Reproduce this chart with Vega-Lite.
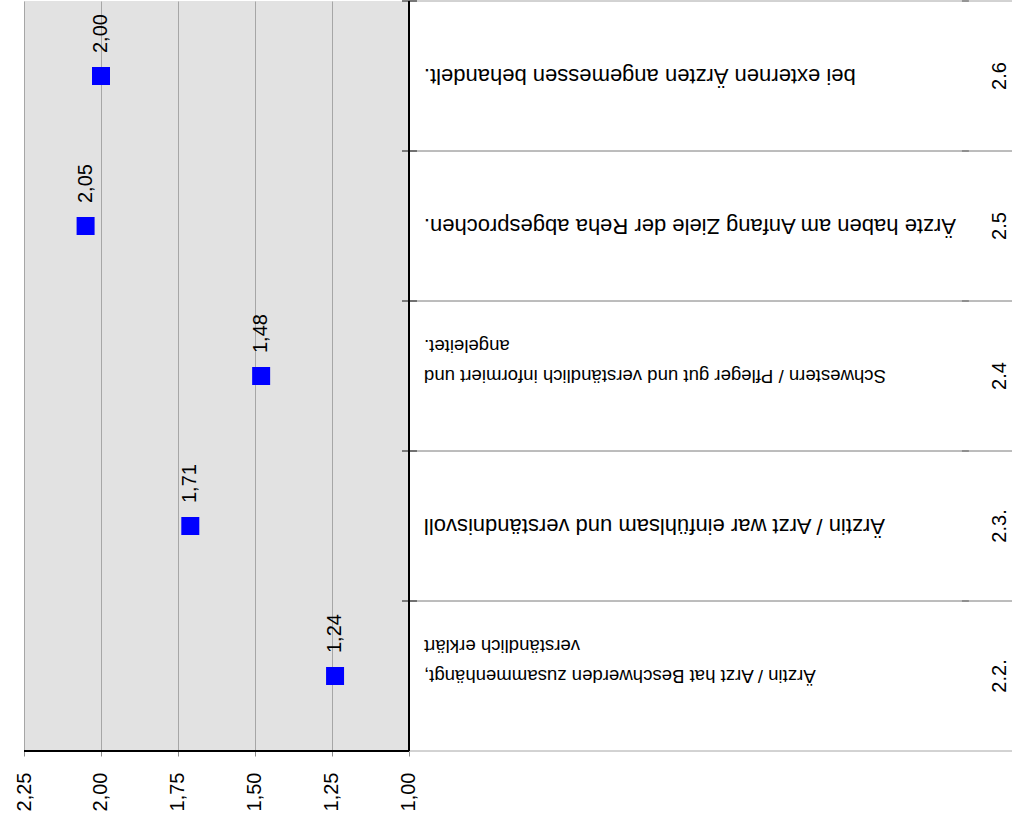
{
  "$schema": "https://vega.github.io/schema/vega-lite/v6.json",
  "width": 988,
  "height": 750,
  "padding": {"left": 14, "top": 0, "right": 0, "bottom": 15},
  "background": "white",
  "view": {"fill": "#e2e2e2", "stroke": null},
  "data": {
    "values": [
      {"nr": "2.6", "frage": "bei externen Ärzten angemessen behandelt.", "wert": 2.00},
      {"nr": "2.5", "frage": "Ärzte haben am Anfang Ziele der Reha abgesprochen.", "wert": 2.05},
      {"nr": "2.4", "frage": "Schwestern / Pfleger gut und verständlich informiert und\nangeleitet.", "wert": 1.48},
      {"nr": "2.3.", "frage": "Ärztin / Arzt war einfühlsam und verständnisvoll", "wert": 1.71},
      {"nr": "2.2.", "frage": "Ärztin / Arzt hat Beschwerden zusammenhängt,\nverständlich erklärt", "wert": 1.24}
    ]
  },
  "layer": [
    {
      "mark": {"type": "rect", "color": "#ffffff"},
      "encoding": {
        "x": {"datum": 1, "type": "quantitative"},
        "x2": {"datum": -0.958},
        "y": {"field": "nr", "type": "nominal", "sort": null, "title": null, "scale": {"type": "band", "paddingInner": 0, "paddingOuter": 0}}
      }
    },
    {
      "mark": {"type": "rule", "color": "#a6a6a6", "strokeWidth": 1},
      "encoding": {
        "x": {"datum": 1, "type": "quantitative"},
        "x2": {"datum": -0.958},
        "y": {"field": "nr", "type": "nominal", "sort": null, "title": null, "bandPosition": 0}
      }
    },
    {
      "mark": {"type": "rule", "color": "#a6a6a6", "strokeWidth": 1},
      "encoding": {
        "x": {"datum": 1, "type": "quantitative"},
        "x2": {"datum": -0.958},
        "y": {"field": "nr", "type": "nominal", "sort": null, "title": null, "bandPosition": 1}
      }
    },
    {
      "mark": {"type": "rule", "color": "#595959", "strokeWidth": 1.5},
      "encoding": {
        "x": {"datum": 1.0227, "type": "quantitative"},
        "x2": {"datum": 0.974},
        "y": {"field": "nr", "type": "nominal", "sort": null, "title": null, "bandPosition": 0}
      }
    },
    {
      "mark": {"type": "rule", "color": "#808080", "strokeWidth": 1.5},
      "encoding": {
        "x": {"datum": -0.7955, "type": "quantitative"},
        "x2": {"datum": -0.818},
        "y": {"field": "nr", "type": "nominal", "sort": null, "title": null, "bandPosition": 0}
      }
    },
    {
      "mark": {"type": "rule", "color": "#000000", "strokeWidth": 1.5},
      "encoding": {
        "x": {"datum": 2.25, "type": "quantitative"},
        "x2": {"datum": 1},
        "y": {"datum": "2.2.", "type": "nominal", "bandPosition": 1}
      }
    },
    {
      "mark": {"type": "rule", "color": "#000000", "strokeWidth": 1.5},
      "encoding": {
        "x": {"datum": 1, "type": "quantitative"}
      }
    },
    {
      "mark": {"type": "point", "shape": "square", "filled": true, "size": 324, "color": "#0000ff", "opacity": 1},
      "encoding": {
        "x": {
          "field": "wert",
          "type": "quantitative",
          "title": null,
          "scale": {"domain": [-0.958, 2.25], "reverse": true, "nice": false, "zero": false},
          "axis": {
            "title": null,
            "values": [1, 1.25, 1.5, 1.75, 2, 2.25],
            "format": ".2f",
            "domain": false,
            "grid": true,
            "gridColor": "#a6a6a6",
            "gridWidth": 1,
            "ticks": true,
            "tickColor": "#8c8c8c",
            "tickSize": 5,
            "labelAngle": 270,
            "labelAlign": "right",
            "labelBaseline": "middle",
            "labelPadding": 16,
            "labelFlush": false,
            "labelOverlap": false,
            "labelFont": "Liberation Sans",
            "labelFontSize": 20,
            "labelColor": "#000000",
            "zindex": 0
          }
        },
        "y": {"field": "nr", "type": "nominal", "sort": null, "title": null}
      }
    },
    {
      "mark": {"type": "text", "angle": 270, "align": "left", "baseline": "middle", "dx": 23, "font": "Liberation Sans", "fontSize": 20, "color": "#000000"},
      "encoding": {
        "x": {"field": "wert", "type": "quantitative", "title": null},
        "y": {"field": "nr", "type": "nominal", "sort": null, "title": null},
        "text": {"field": "wert", "type": "quantitative", "format": ".2f"}
      }
    },
    {
      "mark": {"type": "text", "angle": 180, "align": "right", "baseline": "middle", "dx": -15, "lineBreak": "\n", "lineHeight": 30, "font": "Liberation Sans", "color": "#000000"},
      "encoding": {
        "x": {"datum": 1, "type": "quantitative"},
        "y": {
          "field": "nr",
          "type": "nominal",
          "sort": null,
          "title": null,
          "axis": {
            "orient": "right",
            "title": null,
            "domain": false,
            "grid": false,
            "ticks": false,
            "tickSize": 0,
            "labelAngle": 270,
            "labelAlign": "center",
            "labelBaseline": "middle",
            "labelPadding": -13,
            "labelFont": "Liberation Sans",
            "labelFontSize": 20,
            "labelOverlap": false,
            "labelColor": "#000000"
          }
        },
        "text": {"field": "frage", "type": "nominal"},
        "size": {"condition": {"test": "indexof(datum.frage, '\\n') >= 0", "value": 18.6}, "value": 22}
      }
    }
  ],
  "config": {
    "locale": {"number": {"decimal": ",", "thousands": ".", "grouping": [3], "currency": ["", " €"]}}
  }
}
